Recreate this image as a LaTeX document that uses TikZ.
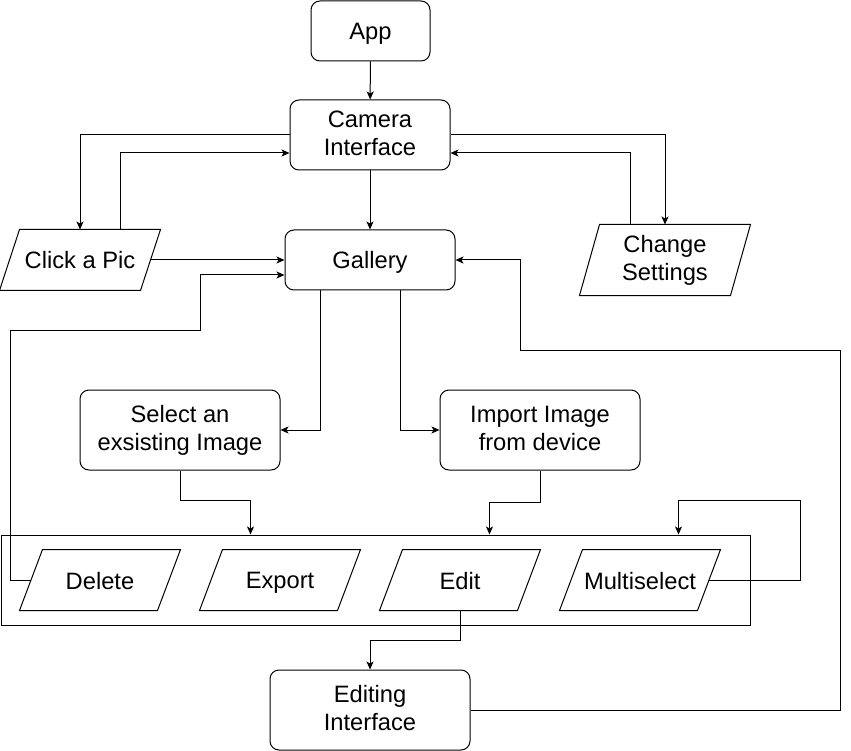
\documentclass[tikz,border=0pt]{standalone}
\usepackage{fontspec}
\setmainfont{Liberation Sans}
\usepackage{tikz}
\usetikzlibrary{shapes, arrows.meta, calc, positioning}
\newcommand{\boxfont}{\fontsize{23.7}{28}\selectfont}
\newcommand{\lstrut}{\rule[-4pt]{0pt}{26pt}}

\begin{document}
\begin{tikzpicture}[x=1pt,y=-1pt,line width=1pt,
    every node/.style={align=center,inner sep=2pt,font=\boxfont,
        execute at begin node=\lstrut,execute at end node=\lstrut},
    proc/.style={draw,rounded corners=9pt},
    io/.style={minimum width=160pt,minimum height=60pt},
    arr/.style={-{Stealth[length=8pt,width=7pt,inset=2pt]}}]
            \useasboundingbox (0,0) rectangle (851,751);

            \node[proc,minimum width=119pt,minimum height=60pt] (app) at (370.5,31) {App};
            \node[proc,minimum width=160pt,minimum height=70pt] (cam) at (370,135) {Camera\\Interface};
            \node[proc,minimum width=170pt,minimum height=60pt] (gal) at (370,260) {Gallery};
            
            \node[io] (click) at (80,260) {Click a Pic};
            \node[io,minimum width=170pt,minimum height=70pt] (chg) at (665,260) {Change\\Settings};
            
            \node[proc,minimum width=200pt,minimum height=80pt] (sel) at (180,430) {Select an\\exsisting Image};
            \node[proc,minimum width=200pt,minimum height=80pt] (imp) at (540,430) {Import Image\\from device};
            
            \node[draw,minimum width=749pt,minimum height=90pt,inner sep=0pt] (grp) at (375.5,580) {};
            \node[io] (del) at (100,580) {Delete};
            \node[io] (exp) at (280,580) {Export};
            \node[io] (edit) at (460,580) {Edit};
            \node[io] (multi) at (640,580) {Multiselect};
            
            \node[proc,minimum width=200pt,minimum height=80pt] (editing) at (370,710) {Editing\\Interface};
            
            % slanted sides of the input boxes
            \foreach \n/\s in {click/20,chg/20,del/23,exp/23,edit/23,multi/23}
                \draw (\n.south west) -- ([xshift=\s pt]\n.north west) -- (\n.north east)
                    -- ([xshift=-\s pt]\n.south east) -- cycle;
            
            \draw [arr] (app) -- (cam);
            \draw [arr] (cam.west) -| (click.north);
            \draw [arr] ([xshift=40pt]click.north) |- ([yshift=-18pt]cam.west);
            \draw [arr] (cam.east) -| (chg.north);
            \draw [arr] ([xshift=-35pt]chg.north) |- ([yshift=-18pt]cam.east);
            \draw [arr] (cam) -- (gal);
            \draw [arr] ([xshift=-10pt]click.east) -- (gal.west);
            
            \draw [arr] ([xshift=11.5pt]del.west) -- (10,580) -- (10,330) -- (200,330) |- ([yshift=-15pt]gal.west);
            \draw [arr] ([xshift=-50pt]gal.south) |- (sel.east);
            \draw [arr] ([xshift=30pt]gal.south) |- (imp.west);
            
            \draw [arr] (sel.south) -- ++(0,30) -| ([xshift=-125pt]grp.north);
            \draw [arr] (imp.south) -- ++(0,32) -| ([xshift=114pt]grp.north);
            \draw [arr] ([xshift=-11.5pt]multi.east) -| (800,500) -| ([xshift=303pt]grp.north);
            
            \draw [arr] (edit.south) -- ++(0,30) -| (editing.north);
            \draw [arr] (editing.east) -- (840,710) -- (840,350) -- (520,350) |- (gal.east);
\end{tikzpicture}
\end{document}
